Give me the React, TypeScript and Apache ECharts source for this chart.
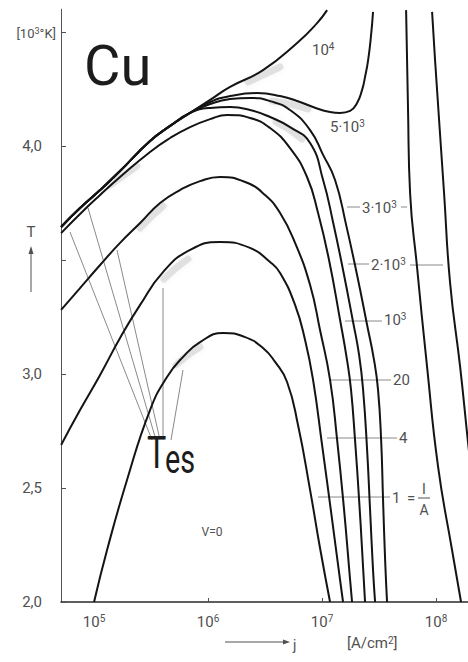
import React, { useEffect, useRef } from "react";
import * as echarts from "echarts";

// x: log10 of current density j [A/cm²], y: temperature T [10³ °K]

// common left branch shared by the 2·10³, 3·10³, 5·10³ and 10⁴ curves
const jBundle = [4.711, 4.877, 5.053, 5.228, 5.491, 5.667, 5.842];
const tBundle = [3.645, 3.728, 3.807, 3.890, 4.022, 4.088, 4.145];

// I/A = 1
const j1 = [5.0, 5.114, 5.289, 5.491, 5.64, 5.781, 5.93, 6.132, 6.325, 6.482, 6.588, 6.693, 6.789, 6.895, 6.982, 7.07];
const t1 = [2.0, 2.228, 2.535, 2.842, 2.987, 3.075, 3.14, 3.18, 3.162, 3.114, 3.053, 2.965, 2.776, 2.491, 2.237, 2.0];

// I/A = 4
const j4 = [4.711, 4.877, 5.053, 5.228, 5.404, 5.605, 5.842, 6.105, 6.368, 6.544, 6.632, 6.763, 6.851, 6.921, 7.0, 7.079, 7.158, 7.184];
const t4 = [2.689, 2.842, 2.996, 3.158, 3.303, 3.447, 3.544, 3.579, 3.553, 3.491, 3.443, 3.303, 3.149, 2.974, 2.689, 2.395, 2.096, 2.0];

// I/A = 20
const j20 = [4.711, 4.877, 5.053, 5.228, 5.404, 5.579, 5.754, 5.93, 6.105, 6.325, 6.5, 6.632, 6.763, 6.895, 6.982, 7.07, 7.132, 7.193, 7.246, 7.263];
const t20 = [3.281, 3.377, 3.478, 3.575, 3.662, 3.75, 3.807, 3.846, 3.864, 3.842, 3.785, 3.706, 3.575, 3.39, 3.193, 2.974, 2.711, 2.404, 2.096, 2.0];

// I/A = 10³
const j1e3 = [4.711, 4.877, 5.053, 5.228, 5.491, 5.667, 5.842, 6.018, 6.167, 6.368, 6.544, 6.719, 6.868, 6.965, 7.061, 7.158, 7.219, 7.254, 7.289, 7.325, 7.351, 7.377];
const t1e3 = [3.618, 3.702, 3.785, 3.864, 3.974, 4.035, 4.083, 4.118, 4.136, 4.123, 4.079, 3.991, 3.864, 3.706, 3.5, 3.237, 3.061, 2.93, 2.711, 2.447, 2.228, 2.0];

// I/A = 2·10³ (after the common branch)
const j2e3 = [6.018, 6.193, 6.368, 6.544, 6.719, 6.895, 7.009, 7.096, 7.184, 7.272, 7.325, 7.36, 7.395, 7.421, 7.447, 7.465];
const t2e3 = [4.167, 4.171, 4.158, 4.127, 4.083, 4.013, 3.851, 3.667, 3.456, 3.228, 3.083, 2.93, 2.667, 2.404, 2.14, 2.0];

// I/A = 3·10³ (after the common branch)
const j3e3 = [6.018, 6.193, 6.368, 6.544, 6.719, 6.895, 7.009, 7.114, 7.211, 7.307, 7.395, 7.456, 7.491, 7.518, 7.535, 7.553, 7.57];
const t3e3 = [4.184, 4.206, 4.211, 4.197, 4.158, 4.07, 3.961, 3.851, 3.654, 3.434, 3.215, 3.061, 2.93, 2.711, 2.447, 2.184, 2.0];

// I/A = 5·10³ (after the common branch)
const j5e3 = [6.018, 6.193, 6.43, 6.632, 6.807, 6.921, 7.07, 7.158, 7.246, 7.307, 7.351, 7.377, 7.404, 7.43, 7.447];
const t5e3 = [4.193, 4.219, 4.232, 4.219, 4.193, 4.171, 4.149, 4.145, 4.154, 4.189, 4.246, 4.303, 4.377, 4.487, 4.588];

// I/A = 10⁴ (after the common branch)
const j1e4 = [6.018, 6.193, 6.482, 6.781, 6.956, 7.044];
const t1e4 = [4.202, 4.259, 4.333, 4.452, 4.539, 4.596];

// high-current branches of 3·10³ and 2·10³
const jHi3e3 = [7.737, 7.754, 7.772, 7.833, 7.921, 8.018, 8.14, 8.219];
const tHi3e3 = [4.596, 4.158, 3.794, 3.469, 3.031, 2.592, 2.228, 2.0];
const jHi2e3 = [7.965, 7.991, 8.07, 8.123, 8.211, 8.281, 8.298];
const tHi2e3 = [4.588, 4.377, 3.794, 3.399, 3.031, 2.697, 2.623];

// axis ticks
const xTicks = [5, 6, 7, 8];
const yTicks = [2, 2.5, 3, 3.5, 4, 4.5];
const yLabelled = [2, 2.5, 3, 4];

const FONT = "Roboto, 'Liberation Sans', sans-serif";
const INK = "#141414";
const GREY = "#505050";
const THIN = "#8a8a8a";

const zip = (a: number[], b: number[]) => a.map((v, i) => [v, b[i]]);

const curves = [
  { name: "1", data: zip(j1, t1) },
  { name: "4", data: zip(j4, t4) },
  { name: "20", data: zip(j20, t20) },
  { name: "10³", data: zip(j1e3, t1e3) },
  { name: "2·10³", data: zip([...jBundle, ...j2e3], [...tBundle, ...t2e3]) },
  { name: "3·10³", data: zip([...jBundle, ...j3e3], [...tBundle, ...t3e3]) },
  { name: "5·10³", data: zip([...jBundle, ...j5e3], [...tBundle, ...t5e3]) },
  { name: "10⁴", data: zip([...jBundle, ...j1e4], [...tBundle, ...t1e4]) },
  { name: "3·10³ high j", data: zip(jHi3e3, tHi3e3) },
  { name: "2·10³ high j", data: zip(jHi2e3, tHi2e3) },
];

const supRich = {
  b: { fontSize: 15, fontFamily: FONT, fill: GREY, lineHeight: 18 },
  s: { fontSize: 10, fontFamily: FONT, fill: GREY, verticalAlign: "top", lineHeight: 10 },
};

const text = (x: number, y: number, t: string, extra: any = {}) => ({
  type: "text",
  x,
  y,
  silent: true,
  style: {
    text: t,
    fontFamily: FONT,
    fontSize: 15,
    fill: GREY,
    align: "left",
    verticalAlign: "middle",
    rich: supRich,
    ...extra,
  },
});

const seg = (x1: number, y1: number, x2: number, y2: number, stroke = THIN, lineWidth = 1) => ({
  type: "line",
  silent: true,
  shape: { x1, y1, x2, y2 },
  style: { stroke, lineWidth },
});

const shade = (pts: number[][]) => ({
  type: "polyline",
  silent: true,
  z: -1,
  shape: { points: pts, smooth: 0.4 },
  style: {
    stroke: "rgba(130,130,130,0.2)",
    lineWidth: 7,
    lineCap: "round",
    shadowBlur: 5,
    shadowColor: "rgba(100,100,100,0.3)",
  },
});

export default function App() {
  const ref = useRef<HTMLDivElement>(null);

  useEffect(() => {
    if (!ref.current) return;
    const chart = echarts.init(ref.current, undefined, { renderer: "svg" });

    const graphic: any[] = [
      // hatching along the curves where the emission temperature is reached
      shade([[110, 185], [123, 176], [137, 166]]),
      shade([[140, 228], [152, 216], [163, 206]]),
      shade([[164, 279], [176, 268], [188, 259]]),
      shade([[176, 365], [188, 355], [200, 347]]),
      shade([[248, 82], [265, 74], [280, 67]]),
      shade([[272, 101], [290, 104], [308, 109]]),
      shade([[276, 122], [290, 130], [302, 139]]),

      // element symbol
      text(84, 66, "Cu", { fontSize: 56, fill: "#1c1c1c" }),

      // y axis unit and title
      text(56, 33, "[10{s|3}°K]", {
        align: "right",
        fontSize: 13,
        rich: {
          s: { fontSize: 9, fontFamily: FONT, fill: GREY, verticalAlign: "top", lineHeight: 9 },
        },
      }),
      text(31, 232, "T", { align: "center", fontSize: 15 }),
      seg(31, 292, 31, 252, GREY, 1),
      {
        type: "polygon",
        silent: true,
        shape: { points: [[28.5, 254], [33.5, 254], [31, 246]] },
        style: { fill: GREY },
      },

      // x axis title
      seg(225, 642, 285, 642, GREY, 1),
      {
        type: "polygon",
        silent: true,
        shape: { points: [[283, 639.5], [290, 642], [283, 644.5]] },
        style: { fill: GREY },
      },
      text(293, 645, "j", { fontSize: 14 }),
      text(347, 643, "[A/cm{s|2}]", { fontSize: 15 }),

      // curve labels with leaders
      text(330, 127, "{b|5·10}{s|3}"),
      text(312, 50, "{b|10}{s|4}"),
      seg(347, 207, 360, 207),
      text(362, 208, "{b|3·10}{s|3}"),
      seg(401, 207, 407, 207),
      seg(348, 264, 369, 264),
      text(371, 265, "{b|2·10}{s|3}"),
      seg(410, 265, 443, 265),
      seg(345, 321, 382, 321),
      text(384, 320, "{b|10}{s|3}"),
      seg(330, 380, 391, 380),
      text(393, 380, "20"),
      seg(327, 438, 397, 438),
      text(399, 438, "4"),
      seg(318, 497, 390, 497),
      text(392, 498, "1"),
      text(407, 498, "="),
      text(424, 489, "I", { align: "center", fontSize: 14 }),
      seg(418, 498, 430, 498, GREY, 1),
      text(424, 510, "A", { align: "center", fontSize: 14 }),

      // T_es annotation with pointers to the marked points
      seg(152, 440, 70, 232),
      seg(156, 440, 88, 208),
      seg(160, 440, 117, 250),
      seg(163, 440, 163, 288),
      seg(171, 440, 183, 370),
      {
        type: "text",
        x: 147,
        y: 476,
        scaleX: 0.72,
        silent: true,
        style: { text: "T", fontFamily: FONT, fontSize: 45, fill: "#1c1c1c", align: "left", verticalAlign: "bottom" },
      },
      {
        type: "text",
        x: 165,
        y: 480,
        scaleX: 0.72,
        silent: true,
        style: { text: "es", fontFamily: FONT, fontSize: 40, fill: "#1c1c1c", align: "left", verticalAlign: "bottom" },
      },

      text(212, 532, "V=0", { align: "center", fontSize: 12 }),
    ];

    chart.setOption({
      animation: false,
      grid: { left: 61, right: 0, top: 9.2, bottom: 60 },
      xAxis: {
        type: "value",
        min: 4.71,
        max: 8.28,
        axisLine: { onZero: false, lineStyle: { color: "#2a2a2a", width: 1.5 } },
        axisTick: { inside: true, length: 4, customValues: xTicks, lineStyle: { color: GREY } },
        axisLabel: {
          customValues: xTicks,
          margin: 11,
          formatter: (v: number) => `{b|10}{s|${v}}`,
          rich: {
            b: { fontSize: 15, fontFamily: FONT, color: GREY, lineHeight: 18 },
            s: { fontSize: 10, fontFamily: FONT, color: GREY, verticalAlign: "top", lineHeight: 10 },
          },
        },
        splitLine: { show: false },
      },
      yAxis: {
        type: "value",
        min: 2,
        max: 4.6,
        interval: 0.5,
        axisLine: { show: true, onZero: false, lineStyle: { color: "#555", width: 1 } },
        axisTick: { show: true, inside: true, length: 5, customValues: yTicks, lineStyle: { color: GREY } },
        axisLabel: {
          customValues: yLabelled,
          margin: 19,
          fontSize: 15,
          fontFamily: FONT,
          color: GREY,
          formatter: (v: number) => v.toFixed(1).replace(".", ","),
        },
        splitLine: { show: false },
      },
      series: curves.map((c) => ({
        type: "line",
        name: c.name,
        data: c.data,
        symbol: "none",
        smooth: 0.5,
        silent: true,
        z: 3,
        lineStyle: { color: INK, width: 2 },
      })),
      graphic,
    });

    return () => chart.dispose();
  }, []);

  return (
    <div
      ref={ref}
      style={{ position: "absolute", left: 0, top: 0, width: 468, height: 662, background: "#fff" }}
    />
  );
}
